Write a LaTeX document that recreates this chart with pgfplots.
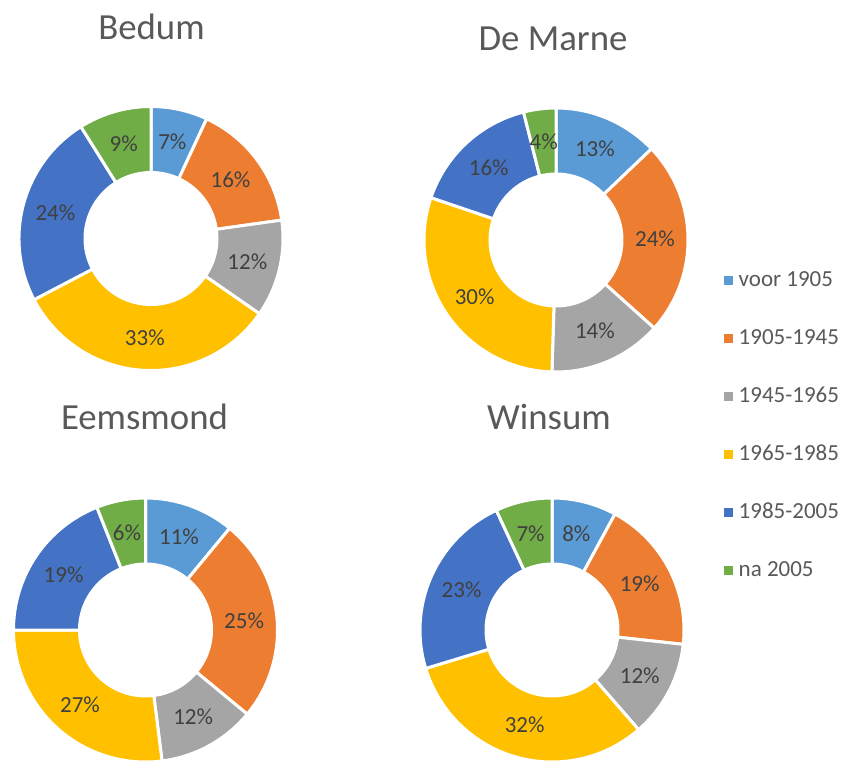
\documentclass[border=0pt]{standalone}
\usepackage{pgfplots}
\usepackage{pgfplotstable}
\pgfplotsset{compat=1.18}
\usepackage{fontspec}
\setmainfont{Carlito}
\definecolor{c0}{HTML}{5B9BD5}
\definecolor{c1}{HTML}{ED7D31}
\definecolor{c2}{HTML}{A5A5A5}
\definecolor{c3}{HTML}{FFC000}
\definecolor{c4}{HTML}{4472C4}
\definecolor{c5}{HTML}{70AD47}
\definecolor{titlegray}{HTML}{595959}
\definecolor{labelgray}{HTML}{404040}

% share (%) of dwellings per building period
\pgfplotstableread{
period Bedum DeMarne Eemsmond Winsum
voor1905 7 13 11 8
1905-1945 16 24 25 19
1945-1965 12 14 12 12
1965-1985 33 30 27 32
1985-2005 24 16 19 23
na2005 9 4 6 7
}\data

\tikzset{
  lbl/.style={font=\fontsize{11.5}{13}\selectfont, text=labelgray, inner sep=0pt},
  ttl/.style={font=\fontsize{18.4}{22}\selectfont, text=titlegray, inner sep=0pt}
}

% #1 column, #2 centre x, #3 centre y (axis units, 1 unit = 0.5pt)
\newcommand\donut[3]{%
  \gdef\dsum{0}%
  \pgfplotsforeachungrouped \i in {0,...,5}{%
    \pgfplotstablegetelem{\i}{#1}\of\data
    \pgfmathsetmacro\tmp{\dsum+\pgfplotsretval}\xdef\dsum{\tmp}}%
  \gdef\dcum{0}%
  \pgfplotsforeachungrouped \i in {0,...,5}{%
    \pgfplotstablegetelem{\i}{#1}\of\data
    \edef\dval{\pgfplotsretval}%
    \pgfmathsetmacro\aone{90-\dcum/\dsum*360}%
    \pgfmathsetmacro\atwo{90-(\dcum+\dval)/\dsum*360}%
    \pgfmathsetmacro\amid{(\aone+\atwo)/2}%
    \pgfmathsetmacro\tmp{\dcum+\dval}\xdef\dcum{\tmp}%
    \edef\temp{\noexpand\filldraw[fill=c\i, draw=white, line width=1.5pt]
      (axis cs:#2,#3) ++(\aone:66pt) arc[start angle=\aone, end angle=\atwo, radius=66pt]
      -- ++(\atwo:-33pt) arc[start angle=\atwo, end angle=\aone, radius=33pt] -- cycle;
      \noexpand\path (axis cs:#2,#3) ++(\amid:49.5pt) node[lbl] {\dval\noexpand\%};}%
    \temp}%
}

\begin{document}
\begin{tikzpicture}
\begin{axis}[
  hide axis, scale only axis,
  x=0.5pt, y=0.5pt,
  xmin=0, xmax=850, ymin=0, ymax=762,
  clip=false,
  legend cell align=left,
  legend style={at={(axis cs:724,494)}, anchor=north west, draw=none, fill=none,
    inner sep=0pt, font=\fontsize{11.5}{13}\selectfont, text=titlegray,
    row sep=17pt,
    nodes={inner sep=1pt, text height=8pt, text depth=2pt},
    /tikz/every odd column/.append style={column sep=2pt}},
]
\addlegendimage{legend image code/.code={\fill[c0] (0pt,-1.875pt) rectangle (3.75pt,1.875pt);}}
\addlegendentry{voor 1905}
\addlegendimage{legend image code/.code={\fill[c1] (0pt,-1.875pt) rectangle (3.75pt,1.875pt);}}
\addlegendentry{1905-1945}
\addlegendimage{legend image code/.code={\fill[c2] (0pt,-1.875pt) rectangle (3.75pt,1.875pt);}}
\addlegendentry{1945-1965}
\addlegendimage{legend image code/.code={\fill[c3] (0pt,-1.875pt) rectangle (3.75pt,1.875pt);}}
\addlegendentry{1965-1985}
\addlegendimage{legend image code/.code={\fill[c4] (0pt,-1.875pt) rectangle (3.75pt,1.875pt);}}
\addlegendentry{1985-2005}
\addlegendimage{legend image code/.code={\fill[c5] (0pt,-1.875pt) rectangle (3.75pt,1.875pt);}}
\addlegendentry{na 2005}

\donut{Bedum}{151}{523.5}
\donut{DeMarne}{556}{522}
\donut{Eemsmond}{145.5}{132}
\donut{Winsum}{552}{132}

\node[ttl, anchor=base] at (axis cs:151.5,722) {Bedum};
\node[ttl, anchor=base] at (axis cs:553,711) {De Marne};
\node[ttl, anchor=base] at (axis cs:144.5,333) {Eemsmond};
\node[ttl, anchor=base] at (axis cs:549,333) {Winsum};
\end{axis}
\pgfresetboundingbox
\useasboundingbox (current axis.south west) rectangle (current axis.north east);
\end{tikzpicture}
\end{document}
